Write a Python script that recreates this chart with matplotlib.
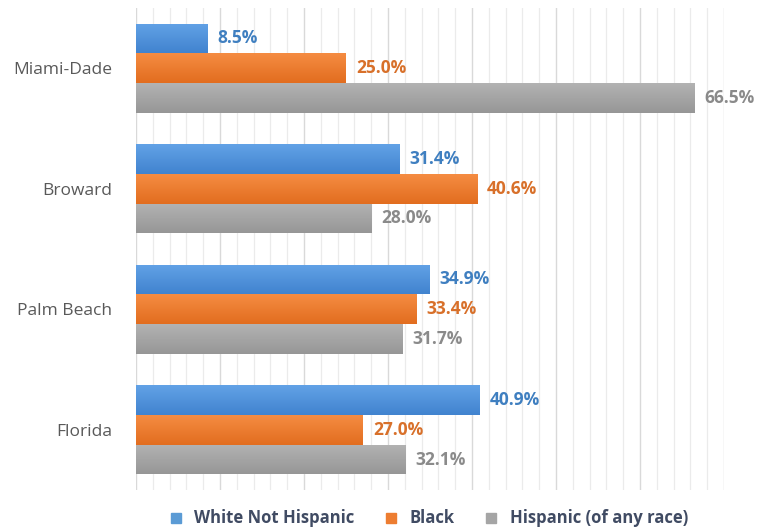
import matplotlib
matplotlib.use("Agg")
import matplotlib.pyplot as plt
import numpy as np
from matplotlib.lines import Line2D
from matplotlib.colors import LinearSegmentedColormap

categories = ["Miami-Dade", "Broward", "Palm Beach", "Florida"]
series_names = ["White Not Hispanic", "Black", "Hispanic (of any race)"]
white = [8.5, 31.4, 34.9, 40.9]
black = [25.0, 40.6, 33.4, 27.0]
hispanic = [66.5, 28.0, 31.7, 32.1]

grad_top = ["#62a2e6", "#f58c42", "#b3b3b3"]
grad_bot = ["#4183cf", "#e26d1f", "#969696"]
legend_colors = ["#5b9bd5", "#ed7d31", "#a5a5a5"]
label_colors = ["#3f7fc0", "#d8702a", "#8a8a8a"]

plt.rcParams['font.family'] = ['Open Sans', 'DejaVu Sans']

fig = plt.figure(figsize=(7.57, 5.29), dpi=100)
ax = fig.add_axes([0.1797, 0.0737, 0.9564 - 0.1797, 0.985 - 0.0737])

y = np.arange(len(categories))
h = 0.247
offsets = [-h, 0, h]
grad = np.linspace(0, 1, 64).reshape(-1, 1)
for vals, off, ct, cb, lcol in zip([white, black, hispanic], offsets, grad_top, grad_bot, label_colors):
    bars = ax.barh(y + off, vals, height=h, color=ct, zorder=3)
    cmap = LinearSegmentedColormap.from_list("g", [ct, cb])
    for b, v in zip(bars, vals):
        x0, y0, w, hh = b.get_x(), b.get_y(), b.get_width(), b.get_height()
        im = ax.imshow(grad, cmap=cmap, aspect="auto", extent=(x0, x0 + w, y0 + hh, y0),
                       origin="upper", zorder=3.5, interpolation="bilinear")
        im.set_clip_path(b)
        ax.text(v + 1.2, y0 + hh / 2, f"{v:.1f}%",
                va="center", ha="left", fontsize=12.5, fontweight="bold", color=lcol, zorder=4)

ax.set_xlim(0, 70)
ax.set_ylim(3.5, -0.5)
ax.set_xticks(np.arange(0, 71, 10))
ax.set_xticks(np.arange(0, 71, 2), minor=True)
ax.grid(axis="x", which="major", color="#d9d9d9", linewidth=1.0, zorder=0)
ax.grid(axis="x", which="minor", color="#ebebeb", linewidth=0.9, zorder=0)
ax.tick_params(axis="x", which="both", length=0, labelbottom=False)
ax.set_yticks(y)
ax.set_yticklabels(categories, fontsize=12.5, color="#595959")
ax.tick_params(axis="y", length=0, pad=17)
for s in ax.spines.values():
    s.set_visible(False)

handles = [Line2D([0], [0], marker="s", linestyle="none", markersize=6.5,
                  markerfacecolor=c, markeredgecolor=c) for c in legend_colors]
fig.legend(handles, series_names, loc="center", bbox_to_anchor=(0.565, 0.02), ncol=3,
           frameon=False, prop={"weight": "bold", "size": 12}, labelcolor="#404b63",
           handletextpad=0.6, columnspacing=1.7, handlelength=1.0)

fig.savefig("out.png", dpi=100)
